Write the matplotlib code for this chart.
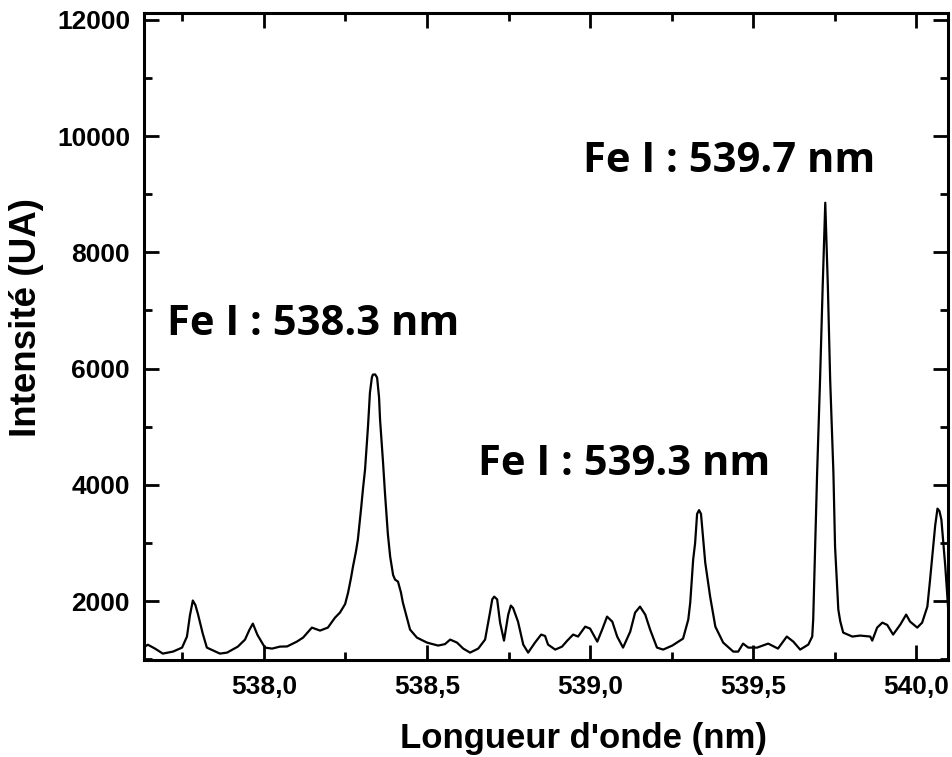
import matplotlib
matplotlib.use("Agg")
import matplotlib.pyplot as plt
from matplotlib.ticker import MultipleLocator, FuncFormatter

# Emission spectrum, Fe I lines region
wavelength = [
    537.635, 537.644, 537.666, 537.690, 537.721, 537.749, 537.764, 537.773,
    537.782, 537.790, 537.798, 537.812, 537.825, 537.865, 537.887, 537.920,
    537.942, 537.955, 537.966, 537.980, 538.003, 538.025, 538.049, 538.071,
    538.101, 538.120, 538.147, 538.172, 538.196, 538.218, 538.233, 538.249,
    538.258, 538.267, 538.273, 538.282, 538.288, 538.298, 538.304, 538.310,
    538.319, 538.325, 538.331, 538.334, 538.341, 538.347, 538.353, 538.356,
    538.365, 538.371, 538.380, 538.387, 538.396, 538.402, 538.411, 538.420,
    538.426, 538.439, 538.448, 538.469, 538.500, 538.534, 538.555, 538.571,
    538.592, 538.611, 538.632, 538.657, 538.678, 538.693, 538.700, 538.706,
    538.715, 538.724, 538.736, 538.749, 538.757, 538.764, 538.779, 538.795,
    538.810, 538.831, 538.850, 538.862, 538.871, 538.893, 538.914, 538.930,
    538.948, 538.963, 538.985, 539.000, 539.022, 539.037, 539.052, 539.068,
    539.083, 539.101, 539.123, 539.138, 539.153, 539.169, 539.184, 539.205,
    539.224, 539.252, 539.267, 539.285, 539.301, 539.307, 539.316, 539.322,
    539.328, 539.334, 539.340, 539.353, 539.368, 539.384, 539.408, 539.439,
    539.454, 539.469, 539.485, 539.512, 539.546, 539.576, 539.603, 539.623,
    539.644, 539.669, 539.681, 539.684, 539.690, 539.696, 539.705, 539.713,
    539.721, 539.729, 539.736, 539.746, 539.751, 539.761, 539.767, 539.776,
    539.804, 539.828, 539.859, 539.865, 539.880, 539.896, 539.911, 539.929,
    539.951, 539.969, 539.981, 540.003, 540.018, 540.034, 540.042, 540.050,
    540.058, 540.065, 540.071, 540.077, 540.089, 540.098, 540.110,
]
intensity = [
    1217, 1250, 1183, 1097, 1131, 1200, 1390, 1750,
    2010, 1930, 1770, 1450, 1200, 1097, 1114, 1217,
    1338, 1500, 1613, 1420, 1200, 1183, 1217, 1220,
    1303, 1372, 1544, 1493, 1544, 1716, 1802, 1950,
    2146, 2400, 2593, 2850, 3058, 3600, 3950, 4262,
    5000, 5586, 5850, 5896, 5900, 5844, 5500, 5122,
    4400, 3866, 3150, 2766, 2450, 2370, 2335, 2150,
    1974, 1700, 1510, 1372, 1286, 1235, 1260, 1338,
    1286, 1183, 1114, 1183, 1338, 1802, 2030, 2077,
    2030, 1630, 1320, 1768, 1923, 1880, 1647, 1252,
    1114, 1286, 1424, 1400, 1252, 1166, 1217, 1320,
    1424, 1390, 1561, 1527, 1303, 1510, 1733, 1647,
    1390, 1200, 1475, 1802, 1905, 1768, 1510, 1200,
    1166, 1235, 1290, 1355, 1682, 1974, 2715, 3000,
    3500, 3565, 3500, 2662, 2077, 1561, 1286, 1131,
    1131, 1269, 1200, 1200, 1269, 1183, 1390, 1303,
    1166, 1252, 1390, 1682, 2937, 4200, 5810, 7400,
    8854, 7400, 5810, 4200, 2937, 1854, 1650, 1458,
    1390, 1407, 1390, 1320, 1544, 1630, 1590, 1424,
    1596, 1768, 1647, 1544, 1630, 1905, 2350, 2834,
    3300, 3591, 3550, 3402, 2593, 1854, 1630,
]

line_labels = ["Fe I : 538.3 nm", "Fe I : 539.3 nm", "Fe I : 539.7 nm"]
label_x = [537.703, 538.657, 538.979]
label_y = [6756, 4348, 9559]

tick_font = {"family": "Liberation Sans", "weight": "bold"}

fig = plt.figure(figsize=(9.53, 7.57), dpi=100)
ax = fig.add_axes([0.151, 0.128, 0.844, 0.855])

ax.plot(wavelength, intensity, color="black", lw=1.6)

ax.set_xlim(537.632, 540.098)
ax.set_ylim(985, 12120)

ax.xaxis.set_major_locator(MultipleLocator(0.5))
ax.xaxis.set_minor_locator(MultipleLocator(0.25))
ax.yaxis.set_major_locator(MultipleLocator(2000))
ax.yaxis.set_minor_locator(MultipleLocator(1000))
ax.xaxis.set_major_formatter(FuncFormatter(lambda v, p: f"{v:.1f}".replace(".", ",")))
ax.yaxis.set_major_formatter(FuncFormatter(lambda v, p: f"{v:.0f}"))

ax.tick_params(which="both", direction="in", top=True, right=True, width=2)
ax.tick_params(which="major", length=11)
ax.tick_params(which="minor", length=6)
ax.tick_params(axis="x", pad=11)
ax.tick_params(axis="y", pad=10)
for lab in ax.get_xticklabels() + ax.get_yticklabels():
    lab.set_fontproperties(tick_font)
    lab.set_fontsize(19)

for sp in ax.spines.values():
    sp.set_linewidth(2.2)

ax.set_xlabel("Longueur d'onde (nm)", fontsize=25, fontweight="bold",
              family="Liberation Sans")
ax.set_ylabel("Intensité (UA)", fontsize=26.5, fontweight="bold",
              family="Liberation Sans")
ax.xaxis.set_label_coords(0.547, -0.096)
ax.yaxis.set_label_coords(-0.124, 0.53)

for txt, tx, ty in zip(line_labels, label_x, label_y):
    ax.text(tx, ty, txt, ha="left", va="center", fontsize=30,
            fontweight="bold", family="Open Sans")

fig.savefig("out.png", dpi=100)
